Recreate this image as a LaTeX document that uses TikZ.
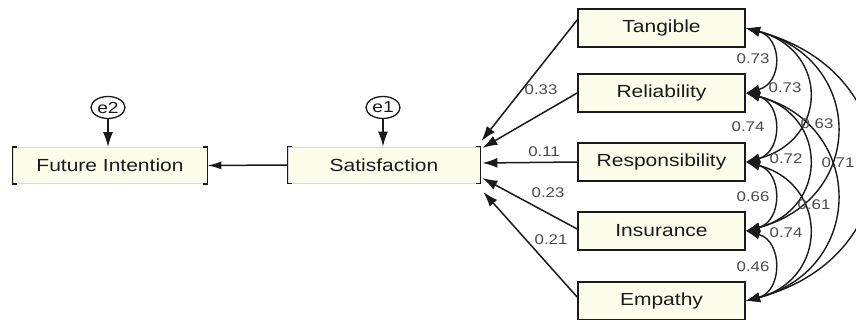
\documentclass[tikz,border=0pt]{standalone}
\usepackage{fontspec}
\setmainfont{Liberation Sans}[FakeStretch=1.2]
\usetikzlibrary{arrows.meta,shapes.geometric,calc}
\definecolor{cream}{HTML}{FDFDEC}
\definecolor{ink}{HTML}{1A1A1A}
\definecolor{numgray}{HTML}{4A4A4A}
\begin{document}
\begin{tikzpicture}[x=1pt,y=-1pt,
  varbox/.style={draw=ink, line width=1.7pt, fill=cream, minimum width=167pt, minimum height=38pt, inner sep=0pt, font=\fontsize{17.5}{20}\selectfont, text=ink},
  endobox/.style={draw=black!15, line width=0.8pt, fill=cream, minimum height=36pt, inner sep=0pt, font=\fontsize{17.5}{20}\selectfont, text=ink},
  errnode/.style={draw=ink, ellipse, line width=1.3pt, fill=white, minimum width=34pt, minimum height=22pt, inner sep=0pt, font=\fontsize{16}{18}\selectfont, text=ink},
  regarrow/.style={-{Latex[length=15pt,width=10pt]}, line width=1.5pt, draw=ink},
  covarrow/.style={{Latex[length=14pt,width=10pt]}-{Latex[length=14pt,width=10pt]}, line width=1.4pt, draw=ink},
  coef/.style={font=\fontsize{14}{16}\selectfont, text=numgray, inner sep=0pt},
  bracket/.style={draw=ink, line width=1.4pt}
]
\useasboundingbox[fill=white] (0,0) rectangle (856,320);

% observed exogenous variables
\node[varbox] (tan) at (661.5,28) {Tangible};
\node[varbox] (rel) at (661.5,93) {Reliability};
\node[varbox] (res) at (661.5,162) {Responsibility};
\node[varbox] (ins) at (661.5,231) {Insurance};
\node[varbox] (emp) at (661.5,301) {Empathy};

% endogenous variables
\node[endobox, minimum width=194pt] (fi) at (110,165.5) {Future Intention};
\node[endobox, minimum width=192pt] (sat) at (384,165) {Satisfaction};
\foreach \n in {fi,sat} {
  \draw[bracket] ([xshift=4pt]\n.north west) -- (\n.north west) -- (\n.south west) -- ([xshift=4pt]\n.south west);
  \draw[bracket] ([xshift=-4pt]\n.north east) -- (\n.north east) -- (\n.south east) -- ([xshift=-4pt]\n.south east);
}

% error terms
\node[errnode] (e2) at (108,107.5) {e2};
\node[errnode] (e1) at (383,107.5) {e1};
\draw[regarrow] (e2.south) -- (e2.south |- fi.north);
\draw[regarrow] (e1.south) -- (e1.south |- sat.north);

% satisfaction -> future intention
\draw[line width=1.5pt, draw=ink, -{Latex[length=14pt,width=8pt]}] (sat.west) -- (fi.east);

% regressions
\draw[regarrow] ($(tan.west)+(0,-8)$) -- ($(sat.east)+(1,-24)$);
\draw[regarrow] (rel.west) -- ($(sat.east)+(2,-17)$);
\draw[regarrow] (res.west) -- ($(sat.east)+(2,-2)$);
\draw[regarrow] ($(ins.west)+(0,-2)$) -- ($(sat.east)+(2,13)$);
\draw[regarrow] ($(emp.west)+(0,-4)$) -- ($(sat.east)+(3,27)$);

\node[coef] (r1) at (541,90) {0.33};
\node[coef] (r2) at (544,152) {0.11};
\node[coef] (r3) at (548,193) {0.23};
\node[coef] (r4) at (551,240) {0.21};

% covariances
\draw[covarrow] (tan.east) .. controls +(37,10) and +(37,-10) .. (rel.east);
\draw[covarrow] (rel.east) .. controls +(37,10) and +(37,-10) .. (res.east);
\draw[covarrow] (res.east) .. controls +(37,10) and +(37,-10) .. (ins.east);
\draw[covarrow] (ins.east) .. controls +(37,10) and +(37,-10) .. (emp.east);
\draw[covarrow] (tan.east) .. controls +(83,22) and +(83,-22) .. (res.east);
\draw[covarrow] (rel.east) .. controls +(83,22) and +(83,-22) .. (ins.east);
\draw[covarrow] (res.east) .. controls +(83,22) and +(83,-22) .. (emp.east);
\draw[covarrow] (tan.east) .. controls +(120,32) and +(120,-32) .. (ins.east);
\draw[covarrow] (rel.east) .. controls +(120,32) and +(120,-32) .. (emp.east);
\draw[covarrow] (tan.east) .. controls +(167,45) and +(167,-45) .. (emp.east);

\node[coef] (k1) at (753,59) {0.73};
\node[coef] (k2) at (748,127) {0.74};
\node[coef] (k3) at (753,197) {0.66};
\node[coef] (k4) at (753,267) {0.46};
\node[coef] (k5) at (785,88) {0.73};
\node[coef] (k6) at (786,159) {0.72};
\node[coef] (k7) at (786,233) {0.74};
\node[coef] (k8) at (817,124) {0.63};
\node[coef] (k9) at (814,205) {0.61};
\node[coef] (k10) at (838,163) {0.71};
\end{tikzpicture}
\end{document}
